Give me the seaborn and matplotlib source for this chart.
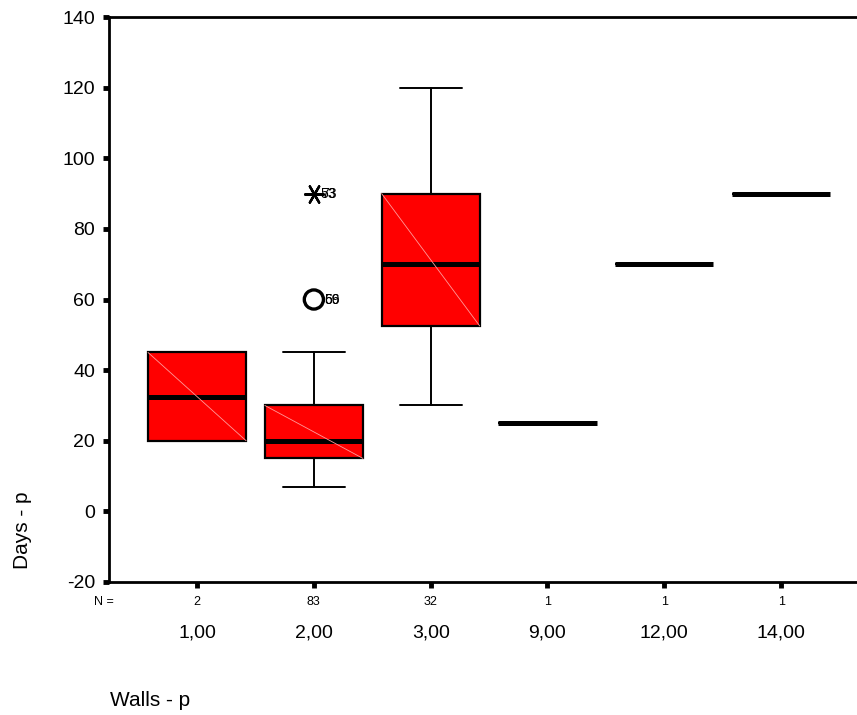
import matplotlib
matplotlib.use("Agg")
import matplotlib.pyplot as plt
import seaborn as sns

# Box statistics (SPSS style boxplot)
groups = ["1,00", "2,00", "3,00", "9,00", "12,00", "14,00"]
counts = [2, 83, 32, 1, 1, 1]
q1 = [20, 15, 52.5, 25, 70, 90]
medians = [32.5, 20, 70, 25, 70, 90]
q3 = [45, 30, 90, 25, 70, 90]
whisk_lo = [20, 7, 30, 25, 70, 90]
whisk_hi = [45, 45, 120, 25, 70, 90]

# outliers (circles) and extremes (asterisks) with case labels
outlier_group = [1]
outlier_value = [60]
outlier_labels = [["66", "59"]]
extreme_group = [1]
extreme_value = [90]
extreme_labels = [["73", "53"]]

sns.set_style("white")
plt.rcParams["font.family"] = ["Liberation Sans", "DejaVu Sans"]
plt.rcParams["axes.unicode_minus"] = False
plt.rcParams["text.color"] = "black"

fig = plt.figure(figsize=(8.57, 7.15), dpi=100)
ax = fig.add_axes([109 / 857, 1 - 582 / 715, 1 - 109 / 857, (582 - 17) / 715])

stats = []
for i, g in enumerate(groups):
    stats.append(dict(label=g, q1=q1[i], med=medians[i], q3=q3[i],
                      whislo=whisk_lo[i], whishi=whisk_hi[i], fliers=[]))

pos = list(range(len(groups)))
ax.bxp(stats, positions=pos, widths=0.84, patch_artist=True, showfliers=False,
       boxprops=dict(facecolor="#ff0000", edgecolor="black", linewidth=1.6),
       medianprops=dict(color="black", linewidth=3.6),
       whiskerprops=dict(color="black", linewidth=1.4),
       capprops=dict(color="black", linewidth=1.4),
       capwidths=0.53, manage_ticks=False)

# faint diagonal in each box, as in SPSS output
for i in pos:
    if q3[i] > q1[i]:
        ax.plot([i - 0.42, i + 0.42], [q3[i], q1[i]], color="#ff9a9a", lw=0.6, zorder=3)

ax.scatter(outlier_group, outlier_value, s=190, facecolors="none",
           edgecolors="black", linewidths=2.4, zorder=4)
ax.scatter(extreme_group, extreme_value, s=180, marker=(6, 2, 90),
           color="black", linewidths=1.7, zorder=4)
for x, y, labs in zip(outlier_group, outlier_value, outlier_labels):
    for lab in labs:
        ax.text(x + 0.09, y, lab, fontsize=10, va="center", ha="left")
for x, y, labs in zip(extreme_group, extreme_value, extreme_labels):
    for lab in labs:
        ax.text(x + 0.06, y, lab, fontsize=10, va="center", ha="left")

ax.set_xlim(-0.754, 5.65)
ax.set_ylim(-20, 140)
ax.set_yticks(range(-20, 141, 20))
ax.set_xticks(pos)
ax.set_xticklabels([])
ax.tick_params(axis="y", left=True, labelsize=14, length=4, width=3.5,
               direction="out", pad=6, colors="black")
ax.tick_params(axis="x", bottom=True, length=4, width=3.5, direction="out",
               colors="black")

for side in ["left", "top", "bottom"]:
    ax.spines[side].set_color("black")
    ax.spines[side].set_linewidth(2)
ax.spines["right"].set_visible(False)

tr = ax.get_xaxis_transform()
ax.text(-0.80, -0.036, "N =", transform=tr, fontsize=9, ha="center", va="center")
for i, n in enumerate(counts):
    ax.text(i, -0.036, str(n), transform=tr, fontsize=9, ha="center", va="center")
    ax.text(i, -0.09, groups[i], transform=tr, fontsize=14, ha="center", va="center")

fig.text(22 / 857, 1 - 530 / 715, "Days - p", rotation=90, fontsize=15,
         ha="center", va="center")
fig.text(110 / 857, 1 - 700 / 715, "Walls - p", fontsize=15, ha="left", va="center")

fig.savefig("out.png", dpi=100)
